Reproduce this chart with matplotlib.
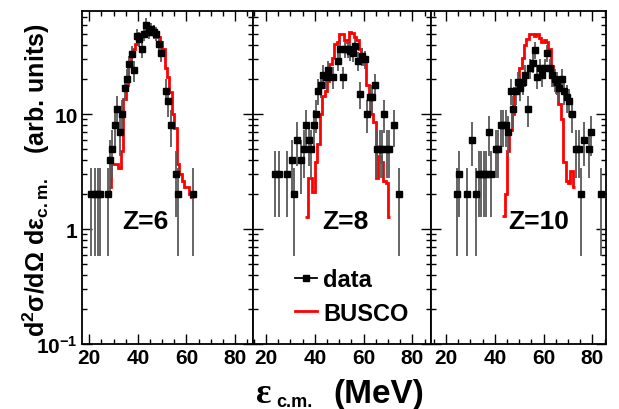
import numpy as np
import matplotlib
matplotlib.use('Agg')
import matplotlib.pyplot as plt
from matplotlib.ticker import MultipleLocator, FixedLocator
from matplotlib.lines import Line2D

plt.rcParams['font.family'] = 'Liberation Sans'
plt.rcParams['font.weight'] = 'bold'
plt.rcParams['mathtext.default'] = 'regular'

# measured counts (bin centres in MeV), error = sqrt(N)
z6_e = [20.5, 22.5, 23.5, 24.5, 27.5, 28.5, 29.5, 30.5, 31.5, 32.5, 33.5, 34.5, 35.5,
        36.5, 37.5, 38.5, 39.5, 40.5, 41.5, 42.5, 43.5, 44.5, 45.5, 46.5, 47.5, 48.5,
        49.5, 51.5, 52.5, 53.5, 55.5, 56.5, 62.5]
z6_n = [2, 2, 2, 2, 2, 4, 5, 8, 11, 7, 10, 17, 20,
        27, 33, 24, 48, 45, 37, 50, 60, 52, 55, 52, 50, 41,
        34, 16, 13, 8, 3, 2, 2]

z8_e = [23.5, 25.5, 28.5, 30.5, 31.5, 32.5, 34.5, 35.5, 36.5, 37.5, 38.5, 39.5, 40.5,
        41.5, 42.5, 43.5, 44.5, 45.5, 47.5, 49.5, 50.5, 51.5, 52.5, 53.5, 54.5, 55.5,
        56.5, 57.5, 58.5, 59.5, 60.5, 61.5, 62.5, 63.5, 64.5, 65.5, 66.5, 67.5, 68.5,
        69.5, 70.5, 72.5, 74.5]
z8_n = [3, 3, 3, 4, 2, 6, 4, 5, 8, 6, 5, 8, 10,
        16, 18, 22, 21, 24, 21, 29, 37, 21, 37, 37, 35, 34,
        39, 29, 15, 32, 30, 10, 14, 14, 18, 5, 5, 5, 10,
        5, 5, 8, 2]

z10_e = [24.5, 25.5, 28.5, 30.5, 32.5, 33.5, 34.5, 35.5, 36.5, 37.5, 38.5, 40.5, 41.5,
         42.5, 43.5, 44.5, 45.5, 46.5, 47.5, 48.5, 49.5, 50.5, 51.5, 52.5, 53.5, 54.5,
         55.5, 56.5, 57.5, 58.5, 59.5, 60.5, 61.5, 62.5, 63.5, 64.5, 65.5, 66.5, 67.5,
         68.5, 69.5, 70.5, 71.5, 73.5, 74.5, 75.5, 76.5, 78.5, 79.5, 83.5]
z10_n = [2, 3, 2, 6, 2, 3, 3, 3, 3, 7, 3, 5, 5,
         8, 8, 8, 7, 16, 11, 16, 19, 17, 19, 22, 11, 25,
         28, 36, 21, 25, 22, 25, 34, 25, 22, 20, 19, 17, 20,
         16, 14, 13, 10, 5, 5, 2, 6, 5, 7, 2]

# BUSCO histograms, 1 MeV bins
busco6_edges = np.arange(28, 64)
busco6 = [2.3, 3.7, 3.7, 3.7, 3.4, 4.8, 13.5, 18, 26, 32, 37, 41, 45, 48, 52, 53, 54, 55,
          55, 52, 47, 42, 37, 25, 21, 15.5, 10, 7.6, 3.7, 3.0, 2.6, 2.3, 2.3, 2.0, 1.9]
busco8_edges = np.arange(36, 72)
busco8 = [1.27, 2.8, 2.8, 2.1, 3.8, 5.5, 10, 14.4, 16, 19.5, 27, 31, 41, 42, 50, 50, 44, 42,
          52, 51, 47, 44, 37, 30, 27, 18, 14, 10, 8.5, 2.8, 4.3, 3.8, 2.6, 2.5, 1.27]
busco10_edges = np.arange(43, 74)
busco10 = [1.3, 2.0, 4.8, 7.2, 10, 17, 17, 25, 31, 40, 45, 50, 50, 48, 50, 46, 42, 44,
           42, 37, 26, 18, 15.5, 12.3, 9, 3.8, 2.6, 2.5, 3.2, 2.3]

W, H = 619, 410
fig = plt.figure(figsize=(W / 100, H / 100), dpi=100)

# (left px, right px, xlim, centres, counts, edges, busco, label, label x)
panels = [
    (82, 253, (17.0, 87.4), z6_e, z6_n, busco6_edges, busco6, 'Z=6', 0.37),
    (253, 431, (14.67, 87.6), z8_e, z8_n, busco8_edges, busco8, 'Z=8', 0.52),
    (431, 606, (13.85, 85.6), z10_e, z10_n, busco10_edges, busco10, 'Z=10', 0.615),
]
top, bottom = 12, 345

axes = []
for i, (x0, x1, xlim, e, n, edges, bus, lab, lx) in enumerate(panels):
    ax = fig.add_axes([x0 / W, (H - bottom) / H, (x1 - x0) / W, (bottom - top) / H])
    n = np.array(n, dtype=float)
    ax.errorbar(e, n, yerr=np.sqrt(n), fmt='s', ms=5, color='k', ecolor='0.35',
                elinewidth=1.3, capsize=0, zorder=3)
    ax.stairs(bus, edges, baseline=None, color='red', lw=2, zorder=2)
    ax.set_yscale('log')
    ax.set_ylim(0.1, 78.7)
    ax.set_xlim(*xlim)
    ax.xaxis.set_major_locator(FixedLocator([20, 40, 60, 80]))
    ax.xaxis.set_minor_locator(MultipleLocator(5))
    ax.set_yticks([0.1, 1, 10])
    if i == 0:
        ax.set_yticklabels(['10$^{-1}$', '1', '10'])
    else:
        ax.set_yticklabels([])
    ax.tick_params(which='both', direction='in', top=True, right=True, width=1.0,
                   labelsize=15, pad=3)
    ax.tick_params(which='major', length=7)
    ax.tick_params(which='minor', length=3.5)
    for s in ax.spines.values():
        s.set_linewidth(1.3)
    ax.text(lx, 0.37, lab, transform=ax.transAxes, ha='center', va='center', fontsize=19)
    axes.append(ax)

handles = [Line2D([], [], color='k', marker='s', ms=5, lw=1.3),
           Line2D([], [], color='red', lw=2)]
axes[1].legend(handles, ['data', 'BUSCO'], loc='upper left',
               bbox_to_anchor=(295 / W, (H - 269) / H), bbox_transform=fig.transFigure,
               frameon=False, fontsize=17, handlelength=0.95, handletextpad=0.25,
               labelspacing=0.45, borderpad=0, borderaxespad=0)

fig.text(36 / W, (H - 180) / H, 'd$^{2}$σ/dΩ dε$_{c.m.}$   (arb. units)',
         rotation=90, ha='center', va='center', fontsize=18)
fig.text(256 / W, (H - 403) / H, 'ε', family='Liberation Serif', weight='bold',
         fontsize=26, va='baseline')
fig.text(276 / W, (H - 407) / H, 'c.m.', fontsize=13, va='baseline')
fig.text(333 / W, (H - 403) / H, '(MeV)', fontsize=24, va='baseline')

fig.savefig('out.png', dpi=100)
